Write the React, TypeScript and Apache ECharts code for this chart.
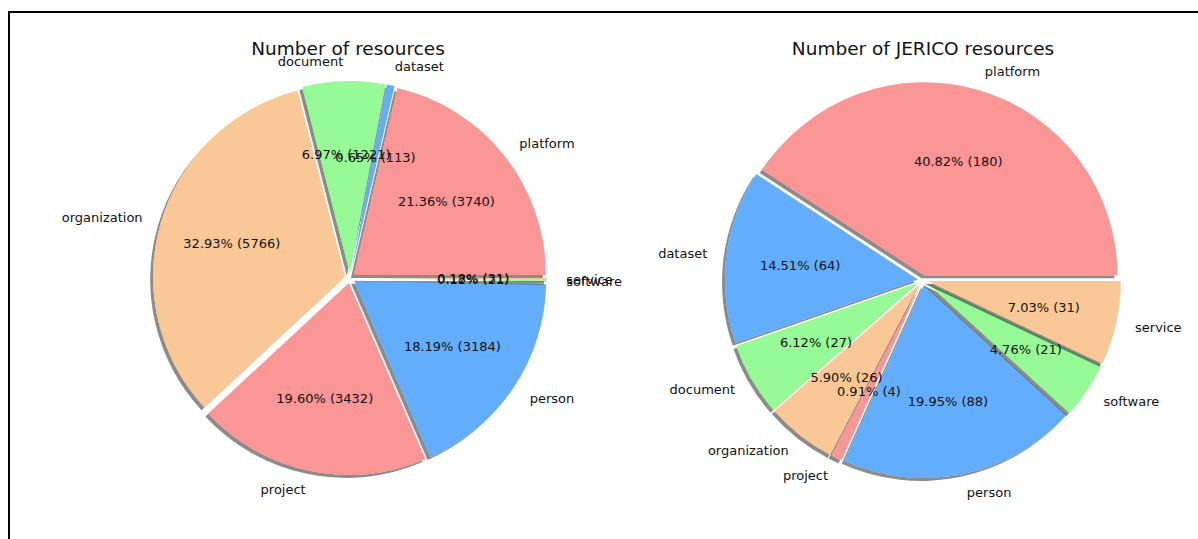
import React, { useEffect, useRef } from "react";
import * as echarts from "echarts";

const categories = ["platform", "dataset", "document", "organization", "project", "person", "software", "service"];
const allValues = [3740, 113, 1221, 5766, 3432, 3184, 21, 31];
const jericoValues = [180, 64, 27, 26, 4, 88, 21, 31];
const palette = ["#fa9696", "#63aefc", "#96fa96", "#fac896"];
const titles = ["Number of resources", "Number of JERICO resources"];

const FONT = "DejaVu Sans";

function buildSeries(values: number[], center: number[], R: number) {
  const total = values.reduce((a, b) => a + b, 0);
  const base: any = {
    type: "pie",
    center,
    startAngle: 0,
    clockwise: false,
    selectedMode: "multiple",
    selectedOffset: 5,
    avoidLabelOverlap: false,
    minShowLabelAngle: 0,
    labelLayout: { hideOverlap: false },
    emphasis: { disabled: true, scale: false },
    select: { itemStyle: { borderWidth: 0 } },
    animation: false,
  };
  const mainData = categories.map((name, i) => ({
    name,
    value: values[i],
    selected: true,
    itemStyle: { color: palette[i % palette.length] },
  }));
  const labelData = categories.map((name, i) => ({
    name,
    value: values[i],
    selected: true,
    itemStyle: { color: "rgba(0,0,0,0)" },
  }));
  return [
    {
      ...base,
      radius: R,
      data: mainData,
      itemStyle: {
        shadowColor: "rgba(0,0,0,0.45)",
        shadowOffsetX: -3,
        shadowOffsetY: 3,
        shadowBlur: 1,
        borderWidth: 0,
      },
      label: {
        show: true,
        position: "outside",
        formatter: "{b}",
        color: "#111",
        fontFamily: FONT,
        fontSize: 13,
        distanceToLabelLine: 0,
      },
      labelLine: { show: false, length: R * 0.1, length2: 0 },
    },
    {
      ...base,
      radius: [R * 0.2, R],
      data: labelData,
      itemStyle: { borderWidth: 0 },
      label: {
        show: true,
        position: "inside",
        color: "#111",
        fontFamily: FONT,
        fontSize: 13,
        formatter: (p: any) => `${((p.value / total) * 100).toFixed(2)}% (${p.value})`,
      },
      labelLine: { show: false },
    },
  ];
}

export default function App() {
  const ref = useRef<HTMLDivElement>(null);
  useEffect(() => {
    if (!ref.current) return;
    const chart = echarts.init(ref.current, null, { renderer: "svg" });
    chart.setOption({
      animation: false,
      backgroundColor: "#ffffff",
      title: [
        {
          text: titles[0],
          left: 348,
          top: 39,
          padding: 0,
          textAlign: "center",
          textStyle: { fontFamily: FONT, fontSize: 18.5, fontWeight: "normal", color: "#111" },
        },
        {
          text: titles[1],
          left: 923,
          top: 39,
          padding: 0,
          textAlign: "center",
          textStyle: { fontFamily: FONT, fontSize: 18.5, fontWeight: "normal", color: "#111" },
        },
      ],
      graphic: [
        {
          type: "rect",
          shape: { x: 9, y: 12, width: 1300, height: 700 },
          style: { fill: "none", stroke: "#000", lineWidth: 2 },
          silent: true,
        },
      ],
      series: [...buildSeries(allValues, [350, 278], 192), ...buildSeries(jericoValues, [923, 280], 193)],
    });
    return () => chart.dispose();
  }, []);
  return (
    <div
      ref={ref}
      style={{ position: "absolute", left: 0, top: 0, width: 1198, height: 539 }}
    />
  );
}
